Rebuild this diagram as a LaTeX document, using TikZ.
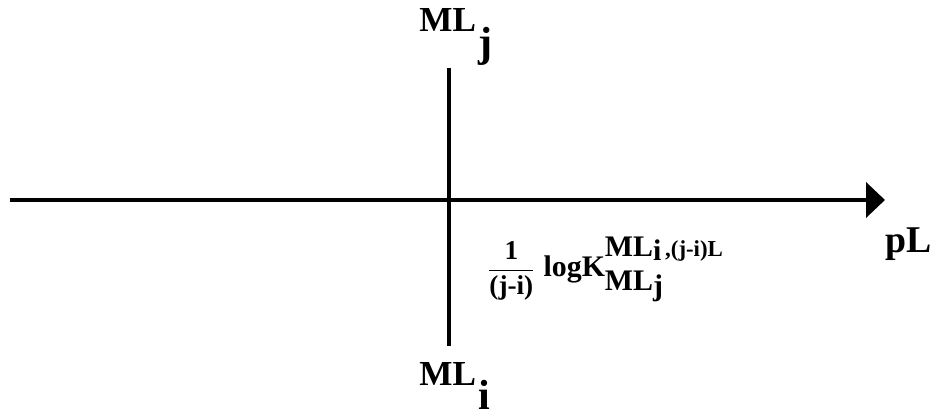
\documentclass[tikz,border=0pt]{standalone}
\usepackage{amsmath}
\usepackage{fontspec}
\setmainfont{Liberation Serif}
\usetikzlibrary{arrows.meta}

\tikzset{
  axis/.style={line width=0.08cm},
  lab/.style={font=\bfseries\fontsize{20}{22}\selectfont, inner sep=0pt, anchor=base west},
}
\newcommand{\bigsub}[1]{\kern0.08em\raisebox{-14pt}{\fontsize{24}{26}\selectfont #1}}

\begin{document}
\begin{tikzpicture}[x=0.02cm, y=-0.02cm]
        \useasboundingbox (0,0) rectangle (932,411);
        % axes
        \coordinate (west) at (10,200); \coordinate (east) at (885,200);
        \coordinate (top) at (449,68); \coordinate (bot) at (449,346);
        \draw[axis,-{Triangle[length=0.38cm,width=0.7cm]}] (west)--(east);
        \draw[axis] (top)--(bot);
        % labels
        \node[lab] (mlj) at (419,32) {ML\bigsub{j}};
        \node[lab] (mli) at (419,385) {ML\bigsub{i}};
        \node[lab,font=\bfseries\fontsize{21.5}{23}\selectfont] (pl) at (885,253) {pL};
        \node[lab,font=\bfseries\fontsize{15.5}{17}\selectfont] (logk) at (487,277)
            {$\dfrac{\text{1}}{\text{(j-i)}}$\hspace{0.3em}{\fontsize{17}{19}\selectfont logK}\rlap{\raisebox{0.42cm}{\fontsize{17}{19}\selectfont ML\raisebox{-0.08cm}{i}\fontsize{13}{15}\selectfont\,,(j-i)L}}\raisebox{-0.28cm}{\fontsize{17}{19}\selectfont ML\raisebox{-0.1cm}{j}}};
\end{tikzpicture}
\end{document}
